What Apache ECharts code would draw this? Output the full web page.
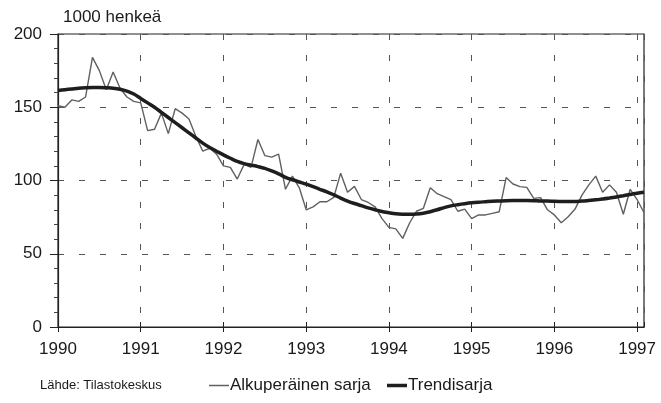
<!DOCTYPE html>
<html>
<head>
<meta charset="utf-8">
<script src="https://cdn.jsdelivr.net/npm/echarts@6/dist/echarts.min.js"></script>
<style>
html,body{margin:0;padding:0;background:#fff;}
#c{width:661px;height:403px;}
</style>
</head>
<body>
<div id="c"></div>
<script>
// Monthly values, Jan 1990 .. Feb 1997 (1000 persons)
var yearLabels = ['1990','1991','1992','1993','1994','1995','1996','1997'];
var original = [
  151,150,155,154,157,184,175,162,174,163,157,154,
  153,134,135,146,132,149,146,142,130,120,122,118,
  110,109,101,111,109,128,117,116,118,94,103,95,
  80,82,85.5,85.5,88.5,105,92,96,87,85,82,74,
  68,67,60.5,71,79,81,95,91,89,87,79,80.5,
  74,76.5,76.5,77.6,78.7,102,97.6,95.8,95.3,87.8,88.3,80,
  76.5,71.2,75.3,80.5,90,97,103,92,97,92,77,94,
  87,78
];
var trend = [
  161.5,162,162.5,163,163.3,163.5,163.5,163.3,163,162.3,161,159,
  156,153,150,146.5,143,139.5,136,132.5,129,125.5,122.5,120,
  117.5,115.2,113,111.5,110.5,109.5,108.3,106.5,104.5,102.2,100.5,99,
  97.5,95.8,94,92.3,90.2,88,86,84.3,82.8,81.3,80,78.8,
  78,77.3,77,76.9,77.1,77.7,78.7,80,81.5,82.7,83.5,84.2,
  84.8,85.2,85.5,85.8,86,86.2,86.3,86.3,86.3,86.2,86,86,
  85.8,85.7,85.6,85.7,86,86.3,86.8,87.3,88,88.8,89.6,90.5,
  91.3,92
];
var seriesNames = ['Alkuperäinen sarja', 'Trendisarja'];

function pairs(arr){ return arr.map(function(v,i){ return [i, v]; }); }

var FONT = '"Liberation Sans", Arial, sans-serif';
var chart = echarts.init(document.getElementById('c'), null, {renderer:'canvas'});
chart.setOption({
  animation: false,
  backgroundColor: '#fff',
  textStyle: {fontFamily: FONT},
  grid: {left: 58, top: 34, right: 17, bottom: 76, show: true, borderColor: '#222', borderWidth: 1.2, containLabel: false},
  graphic: [
    {type:'text', left: 63, top: 9, style:{text:'1000 henkeä', font:'17px ' + FONT, fill:'#1a1a1a'}},
    {type:'text', left: 40, top: 379, style:{text:'Lähde: Tilastokeskus', font:'13px ' + FONT, fill:'#1a1a1a'}}
  ],
  legend: [
    {data:[{name: seriesNames[0], icon:'rect'}], left: 204, top: 372, itemWidth: 20, itemHeight: 1.5, itemGap: 4,
     textStyle:{fontSize:17, color:'#1a1a1a', fontFamily: FONT, padding:[0,0,0,-4]}, selectedMode:false},
    {data:[{name: seriesNames[1], icon:'rect'}], left: 382, top: 372, itemWidth: 20, itemHeight: 3.5, itemGap: 4,
     textStyle:{fontSize:17, color:'#1a1a1a', fontFamily: FONT, padding:[0,0,0,-4]}, selectedMode:false}
  ],
  xAxis: [{
    type: 'value', min: 0, max: 85, interval: 12,
    axisLine: {show: true, lineStyle: {color:'#222', width: 1.2}},
    axisTick: {show: true, length: 5, lineStyle:{color:'#222'}},
    axisLabel: {fontSize: 17, color:'#1a1a1a', margin: 14, fontFamily: FONT,
      formatter: function(v){ return yearLabels[Math.round(v/12)] || ''; }},
    splitLine: {show: true, lineStyle: {color:'#555', type:[6,15], width: 1}}
  },{
    type: 'value', min: 0, max: 85, interval: 12, position: 'bottom',
    axisLine: {show: false}, axisLabel: {show: false}, splitLine: {show: false},
    axisTick: {show: true, inside: true, length: 5, lineStyle:{color:'#222'}}
  }],
  yAxis: {
    type: 'value', min: 0, max: 200, interval: 50,
    axisLine: {show: true, lineStyle: {color:'#222', width: 1.2}},
    axisTick: {show: true, length: 8, lineStyle:{color:'#222'}},
    minorTick: {show: true, splitNumber: 5, length: 4, lineStyle:{color:'#444'}},
    axisLabel: {fontSize: 17, color:'#1a1a1a', margin: 16, fontFamily: FONT},
    splitLine: {show: true, lineStyle: {color:'#555', type:[6,15], width: 1}}
  },
  series: [
    {name: seriesNames[0], type:'line', data: pairs(original), showSymbol:false, symbol:'none',
     lineStyle:{color:'#606060', width:1.4}, itemStyle:{color:'#606060'}, z: 2},
    {name: seriesNames[1], type:'line', data: pairs(trend), showSymbol:false, symbol:'none', smooth: 0.3,
     lineStyle:{color:'#1e1e1e', width:3.5}, itemStyle:{color:'#1e1e1e'}, z: 3}
  ]
});
</script>
</body>
</html>
